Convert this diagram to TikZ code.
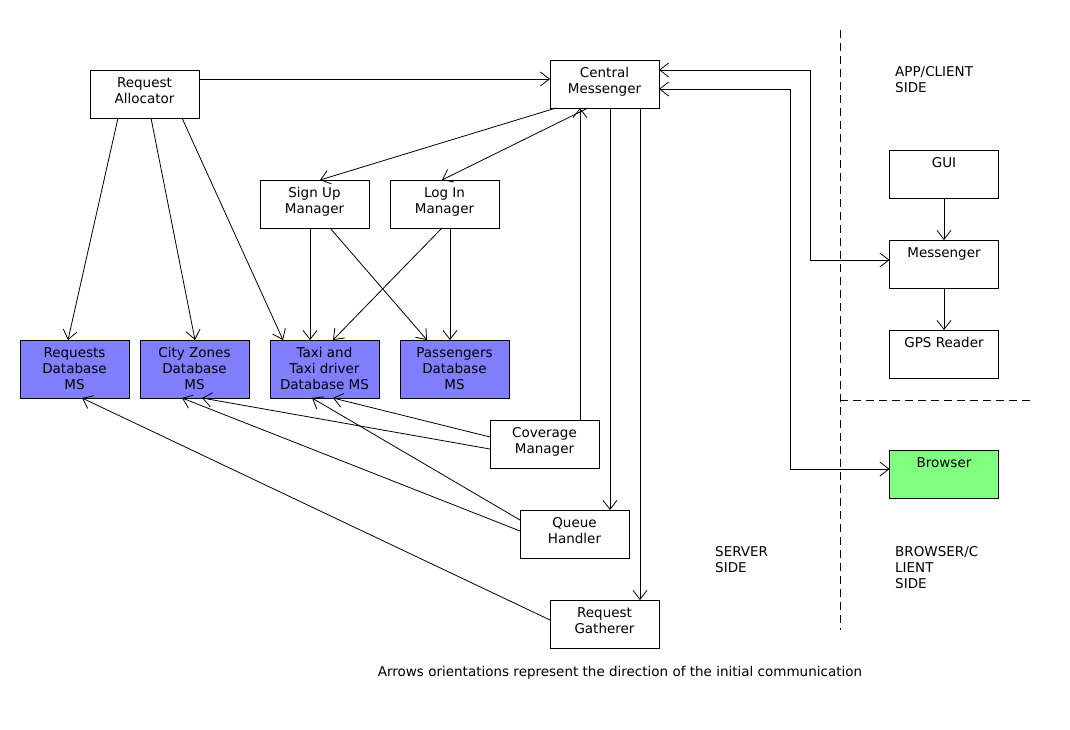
\documentclass[tikz,border=0pt]{standalone}
\usepackage{fontspec}
\setmainfont{DejaVu Sans}
\usetikzlibrary{arrows.meta,calc}
\definecolor{dbblue}{HTML}{8080FF}
\definecolor{webgreen}{HTML}{80FF80}
\begin{document}
\begin{tikzpicture}[x=1pt,y=-1pt,
  txt/.style={font=\fontsize{13.5}{16}\selectfont, text=black},
  box/.style={draw=black, line width=0.9pt, fill=white, minimum width=109pt,
    minimum height=48pt, inner sep=0pt, outer sep=0pt},
  dbbox/.style={box, fill=dbblue, minimum height=58pt},
  lbl/.style={txt, anchor=north, inner sep=0pt, yshift=-7pt, align=center},
  arr/.style={line width=0.8pt, -{Straight Barb[length=9pt,width=14pt]}},
  darr/.style={line width=0.8pt, {Straight Barb[length=9pt,width=14pt]}-{Straight Barb[length=9pt,width=14pt]}},
  border/.style={line width=0.8pt, dash pattern=on 8pt off 5pt}]
\useasboundingbox (0,0) rectangle (1070,730);

% server-side components
\node[box, label={[lbl]north:{Request\\Allocator}}] (ra) at (144.5,94) {};
\node[box, label={[lbl]north:{Central\\Messenger}}] (cm) at (604.5,84) {};
\node[box, label={[lbl]north:{Sign Up\\Manager}}] (su) at (314.5,204) {};
\node[box, label={[lbl]north:{Log In\\Manager}}] (li) at (444.5,204) {};
\node[dbbox, label={[lbl]north:{Requests\\Database\\MS}}] (rdb) at (74.5,369) {};
\node[dbbox, label={[lbl]north:{City Zones\\Database\\MS}}] (czdb) at (194.5,369) {};
\node[dbbox, label={[lbl]north:{Taxi and\\Taxi driver\\Database MS}}] (tdb) at (324.5,369) {};
\node[dbbox, label={[lbl]north:{Passengers\\Database\\MS}}] (pdb) at (454.5,369) {};
\node[box, label={[lbl]north:{Coverage\\Manager}}] (cov) at (544.5,444) {};
\node[box, label={[lbl]north:{Queue\\Handler}}] (qh) at (574.5,534) {};
\node[box, label={[lbl]north:{Request\\Gatherer}}] (rg) at (604.5,624) {};

% client-side components
\node[box, label={[lbl]north:{GUI}}] (gui) at (944,174) {};
\node[box, label={[lbl]north:{Messenger}}] (msg) at (944,264) {};
\node[box, label={[lbl]north:{GPS Reader}}] (gps) at (944,354) {};
\node[box, fill=webgreen, label={[lbl]north:{Browser}}] (br) at (944,474) {};

% side boundaries
\draw[border] (840,30) -- (840,630);
\draw[border] (840,400) -- (1030,400);

% connectors
\draw[arr] ($(ra.north west)+(109,9)$) -- ($(cm.north west)+(0,19)$);
\draw[arr] ($(ra.north west)+(28,48)$) -- ($(rdb.north west)+(48,0)$);
\draw[arr] ($(ra.north west)+(61,48)$) -- ($(czdb.north west)+(55,0)$);
\draw[arr] ($(ra.north west)+(92,48)$) -- ($(tdb.north west)+(13,0)$);
\draw[arr] ($(cm.north west)+(6,48)$) -- ($(su.north west)+(60,0)$);
\draw[arr] ($(cm.north west)+(38,48)$) -- ($(li.north west)+(52,0)$);
\draw[arr] ($(cov.north west)+(90,0)$) -- ($(cm.north west)+(30,48)$);
\draw[arr] ($(cm.north west)+(60,48)$) -- ($(qh.north west)+(90,0)$);
\draw[arr] ($(cm.north west)+(90,48)$) -- ($(rg.north west)+(90,0)$);
\draw[darr] ($(cm.north east)+(0,10)$) -- ++(151,0) |- ($(msg.north west)+(0,20)$);
\draw[darr] ($(cm.north east)+(0,29)$) -- ++(131,0) |- ($(br.north west)+(0,19)$);
\draw[arr] ($(su.north west)+(50,48)$) -- ($(tdb.north west)+(40,0)$);
\draw[arr] ($(su.north west)+(70,48)$) -- ($(pdb.north west)+(27,0)$);
\draw[arr] ($(li.north west)+(52,48)$) -- ($(tdb.north west)+(63,0)$);
\draw[arr] ($(li.north west)+(60,48)$) -- ($(pdb.north west)+(50,0)$);
\draw[arr] ($(cov.north west)+(0,17)$) -- ($(tdb.north west)+(63,58)$);
\draw[arr] ($(cov.north west)+(0,29)$) -- ($(czdb.north west)+(62,58)$);
\draw[arr] ($(qh.north west)+(0,10)$) -- ($(tdb.north west)+(42,58)$);
\draw[arr] ($(qh.north west)+(0,21)$) -- ($(czdb.north west)+(42,58)$);
\draw[arr] ($(rg.north west)+(0,20)$) -- ($(rdb.north west)+(62,58)$);
\draw[arr] (gui) -- (msg);
\draw[arr] (msg) -- (gps);

% side captions
\node[txt, anchor=north west, align=left, inner sep=0pt] (appside) at (895,66) {APP/CLIENT\\SIDE};
\node[txt, anchor=north west, align=left, inner sep=0pt] (srvside) at (715,546) {SERVER\\SIDE};
\node[txt, anchor=north west, align=left, inner sep=0pt] (webside) at (895,546) {BROWSER/C\\LIENT\\SIDE};
\node[txt] (note) at (620,673) {Arrows orientations represent the direction of the initial communication};
\end{tikzpicture}
\end{document}
